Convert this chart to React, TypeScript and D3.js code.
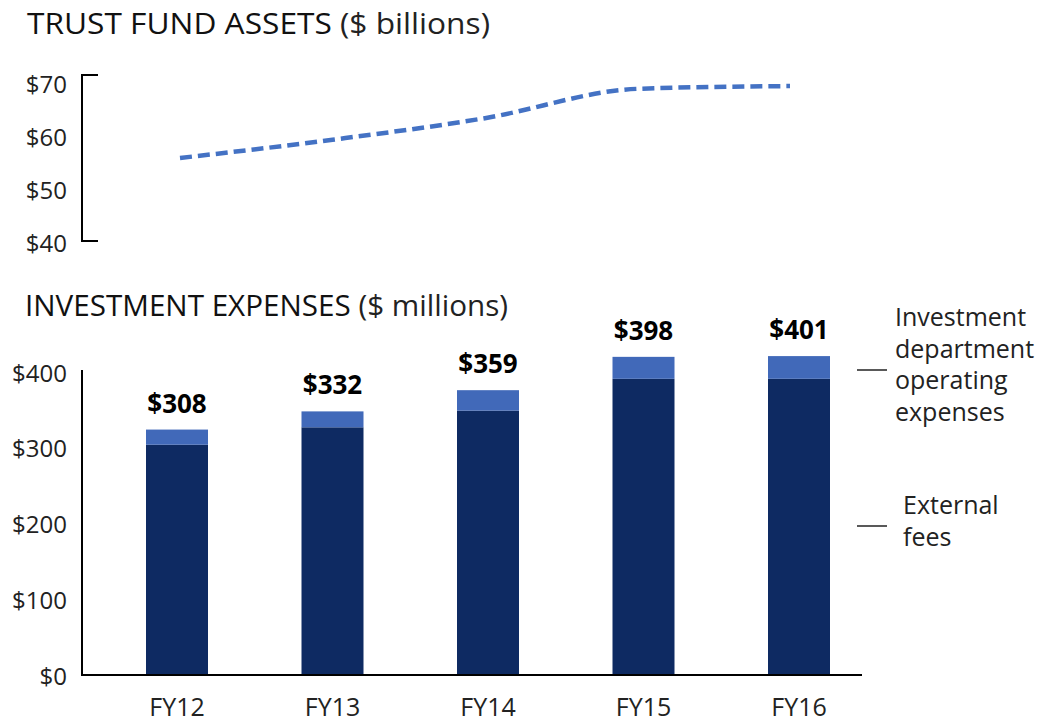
import React from "react";
import * as d3 from "d3";

const years = ["FY12", "FY13", "FY14", "FY15", "FY16"];
const trustAssets = [55.0, 58.3, 62.2, 67.5, 68.0];
const assetTicks = [40, 50, 60, 70];
const externalFees = [304, 327, 349, 391, 391];
const operatingExpenses = [20, 21, 27, 29, 30];
const totalLabels = ["$308", "$332", "$359", "$398", "$401"];
const expenseTicks = [0, 100, 200, 300, 400];
const legendOperating = ["Investment", "department", "operating", "expenses"];
const legendExternal = ["External", "fees"];

const FONT = "'Open Sans', 'Noto Sans', sans-serif";
const DARK = "#0e2a62";
const LIGHT = "#4169b9";
const LINE = "#4472c4";

export default function App() {
  // top chart scales
  const yTop = d3.scaleLinear().domain([40, 70]).range([241, 75]);
  const yTopLabel = d3.scaleLinear().domain([40, 70]).range([242, 83]);
  const xLine = d3.scalePoint().domain(years).range([180, 790]);
  const lineGen = d3
    .line<number>()
    .x((_, i) => xLine(years[i]) as number)
    .y((d) => yTop(d))
    .curve(d3.curveMonotoneX);

  // bottom chart scales
  const yBot = d3.scaleLinear().domain([0, 400]).range([675, 372]);
  const xBar = d3.scalePoint().domain(years).range([177, 799]);
  const barW = 62;

  const stackData = years.map((y, i) => ({
    year: y,
    external: externalFees[i],
    operating: operatingExpenses[i],
  }));
  const stack = d3.stack<any>().keys(["external", "operating"])(stackData);
  const colors: Record<string, string> = { external: DARK, operating: LIGHT };

  return (
    <svg
      width={1046}
      height={723}
      style={{ position: "absolute", left: 0, top: 0, background: "#fff" }}
      fontFamily={FONT}
    >
      {/* Titles */}
      <text x={27} y={34} fontSize={29} fill="#111" textLength={463} lengthAdjust="spacingAndGlyphs">
        TRUST FUND ASSETS<tspan fill="#222"> ($ billions)</tspan>
      </text>
      <text x={25} y={316} fontSize={29} fill="#111" textLength={483} lengthAdjust="spacingAndGlyphs">
        INVESTMENT EXPENSES<tspan fill="#222"> ($ millions)</tspan>
      </text>

      {/* Top axis (bracket) */}
      <path
        d={`M98,${yTop(70)}H82V${yTop(40)}H98`}
        fill="none"
        stroke="#000"
        strokeWidth={2}
      />
      {assetTicks.map((t) => (
        <text
          key={t}
          x={67}
          y={yTopLabel(t)}
          textAnchor="end"
          dominantBaseline="central"
          fontSize={24}
          fill="#222"
        >
          ${t}
        </text>
      ))}
      <path
        d={lineGen(trustAssets) || ""}
        fill="none"
        stroke={LINE}
        strokeWidth={4.5}
        strokeDasharray="12,6"
        strokeLinecap="butt"
      />

      {/* Bars */}
      {stack.map((layer) =>
        layer.map((seg, i) => (
          <rect
            key={layer.key + i}
            x={(xBar(years[i]) as number) - barW / 2}
            y={yBot(seg[1])}
            width={barW}
            height={yBot(seg[0]) - yBot(seg[1])}
            fill={colors[layer.key]}
          />
        ))
      )}
      {years.map((y, i) => (
        <text
          key={"lbl" + y}
          x={xBar(y) as number}
          y={yBot(externalFees[i] + operatingExpenses[i]) - 17}
          textAnchor="middle"
          fontSize={26}
          fontWeight="bold"
          fill="#000"
        >
          {totalLabels[i]}
        </text>
      ))}

      {/* Bottom axes */}
      <path
        d={`M82,${yBot(400) - 2}V${yBot(0)}H862`}
        fill="none"
        stroke="#000"
        strokeWidth={2}
      />
      {expenseTicks.map((t) => (
        <text
          key={t}
          x={67}
          y={yBot(t)}
          textAnchor="end"
          dominantBaseline="central"
          fontSize={24}
          fill="#222"
        >
          ${t}
        </text>
      ))}
      {years.map((y) => (
        <text
          key={"x" + y}
          x={xBar(y) as number}
          y={716}
          textAnchor="middle"
          fontSize={25}
          fill="#222"
        >
          {y}
        </text>
      ))}

      {/* Legend */}
      <line x1={857} x2={887} y1={370} y2={370} stroke="#222" strokeWidth={1.5} />
      {legendOperating.map((s, i) => (
        <text key={s} x={895} y={326 + i * 31.5} fontSize={25} fill="#222">
          {s}
        </text>
      ))}
      <line x1={857} x2={887} y1={526} y2={526} stroke="#222" strokeWidth={1.5} />
      {legendExternal.map((s, i) => (
        <text key={s} x={903} y={514 + i * 32} fontSize={25} fill="#222">
          {s}
        </text>
      ))}
    </svg>
  );
}
